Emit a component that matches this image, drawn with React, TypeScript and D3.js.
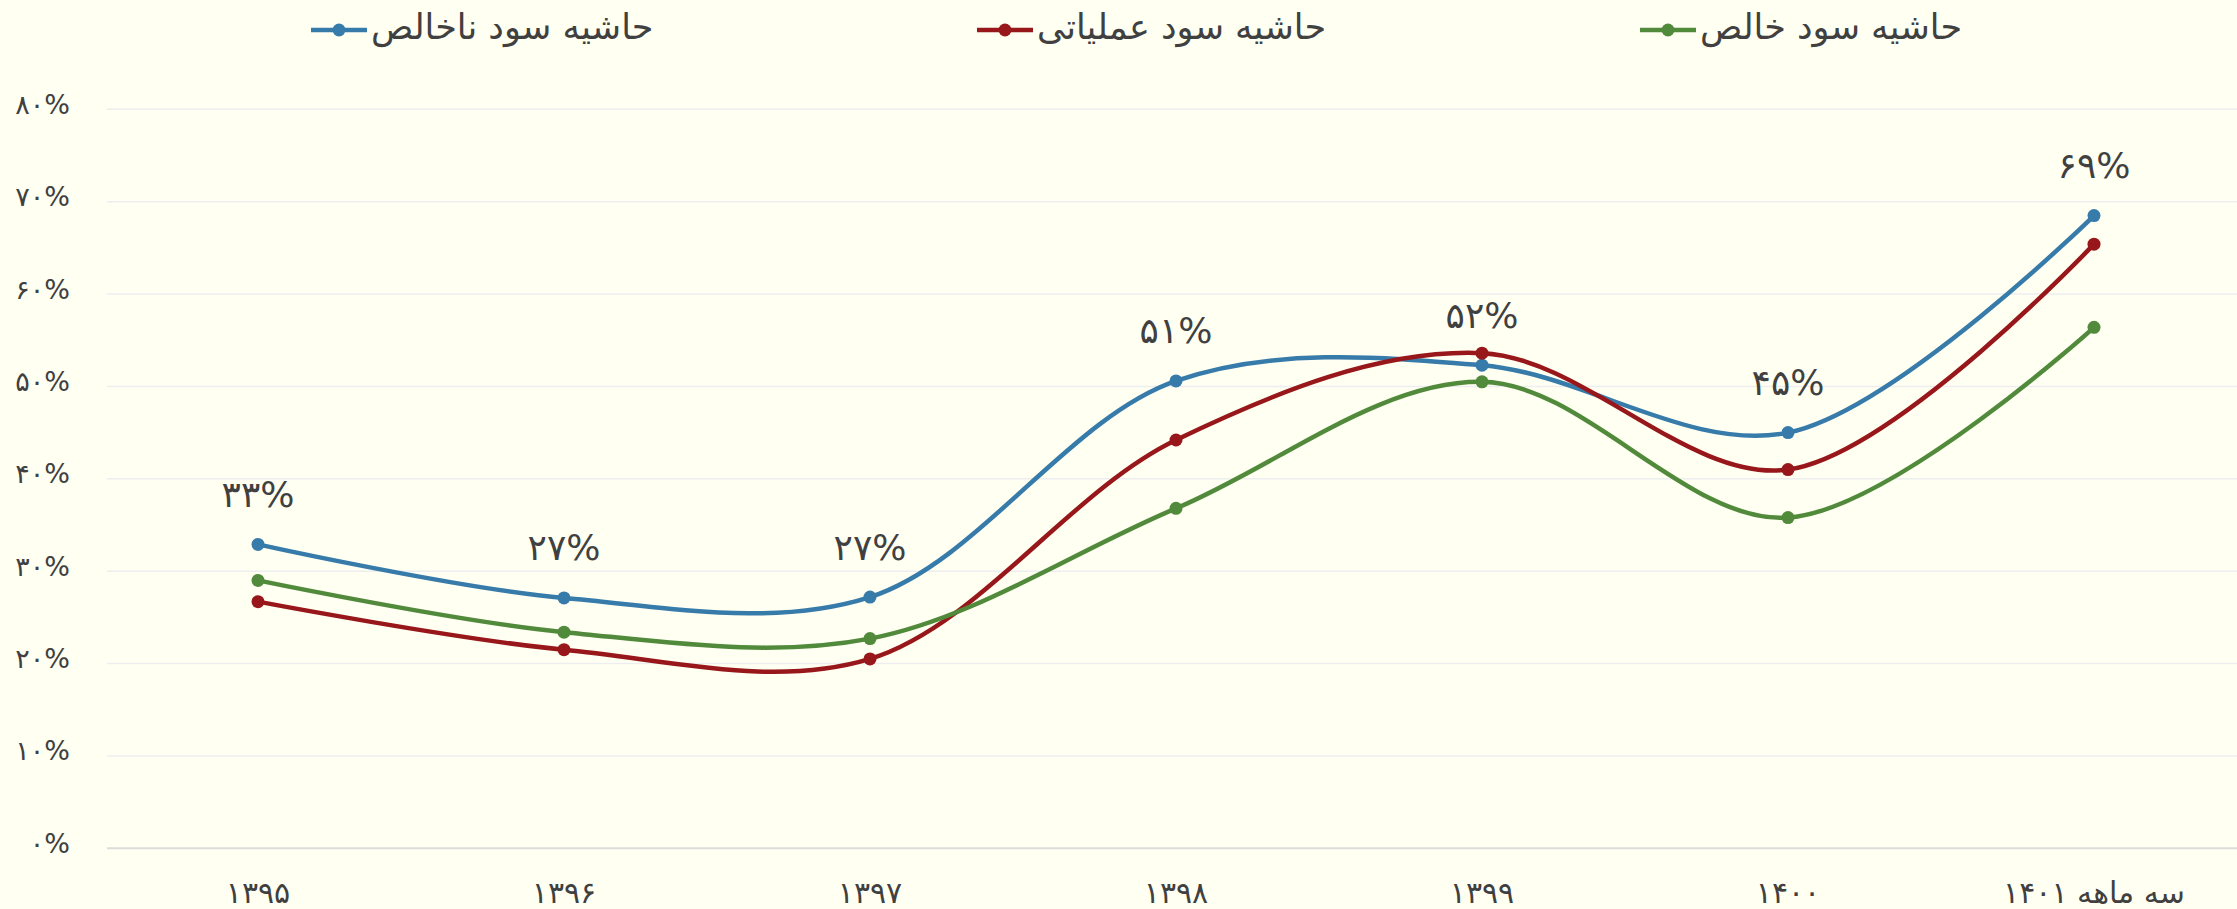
import React from "react";
import * as d3 from "d3";

const categories = ["۱۳۹۵", "۱۳۹۶", "۱۳۹۷", "۱۳۹۸", "۱۳۹۹", "۱۴۰۰", "سه ماهه ۱۴۰۱"];
const grossMargin = [32.9, 27.1, 27.2, 50.6, 52.3, 45.0, 68.5];
const operatingMargin = [26.7, 21.5, 20.5, 44.2, 53.6, 41.0, 65.4];
const netMargin = [29.0, 23.4, 22.7, 36.8, 50.5, 35.8, 56.4];
const grossLabels = ["۳۳%", "۲۷%", "۲۷%", "۵۱%", "۵۲%", "۴۵%", "۶۹%"];
const yTicks = [0, 10, 20, 30, 40, 50, 60, 70, 80];
const yTickLabels = ["۰%", "۱۰%", "۲۰%", "۳۰%", "۴۰%", "۵۰%", "۶۰%", "۷۰%", "۸۰%"];
const seriesNames = ["حاشیه سود ناخالص", "حاشیه سود عملیاتی", "حاشیه سود خالص"];
const seriesColors = ["#377BAA", "#98171B", "#528A3C"];

const W = 2237;
const H = 909;
const FONT = "'DejaVu Sans', sans-serif";
const TEXT = "#404040";

export default function App() {
  const x = d3.scalePoint<string>().domain(categories).range([258, 2094]);
  const y = d3.scaleLinear().domain([0, 80]).range([848.3, 109.3]);
  const gridLeft = 107;
  const gridRight = W;
  const series = [grossMargin, operatingMargin, netMargin];
  const line = d3
    .line<number>()
    .x((_, i) => x(categories[i]) as number)
    .y((v) => y(v))
    .curve(d3.curveCatmullRom.alpha(0.5));

  const legendMarkerX = [311, 977, 1640];
  const legendY = 30;

  return (
    <svg
      width={W}
      height={H}
      style={{ position: "absolute", left: 0, top: 0, display: "block" }}
      fontFamily={FONT}
    >
      <rect x={0} y={0} width={W} height={H} fill="#FFFFF2" />
      {yTicks.map((t, i) => (
        <g key={t}>
          <line
            x1={gridLeft}
            x2={gridRight}
            y1={y(t)}
            y2={y(t)}
            stroke={t === 0 ? "#DCDCDC" : "#EEEEF0"}
            strokeWidth={t === 0 ? 2 : 1.5}
          />
          <text
            x={70}
            y={y(t) - 5}
            textAnchor="end"
            dominantBaseline="central"
            fontSize={27}
            fill={TEXT}
          >
            {yTickLabels[i]}
          </text>
        </g>
      ))}
      {categories.map((c) => (
        <text
          key={c}
          x={x(c)}
          y={892}
          textAnchor="middle"
          dominantBaseline="central"
          direction="rtl"
          fontSize={30}
          fill={TEXT}
        >
          {c}
        </text>
      ))}
      {series.map((s, si) => (
        <g key={si}>
          <path d={line(s) || ""} fill="none" stroke={seriesColors[si]} strokeWidth={4.5} />
          {s.map((v, i) => (
            <circle key={i} cx={x(categories[i])} cy={y(v)} r={6.5} fill={seriesColors[si]} />
          ))}
        </g>
      ))}
      {grossMargin.map((v, i) => (
        <text
          key={i}
          x={x(categories[i])}
          y={y(v) - 50}
          textAnchor="middle"
          dominantBaseline="central"
          fontSize={36}
          fill={TEXT}
        >
          {grossLabels[i]}
        </text>
      ))}
      {seriesNames.map((n, i) => (
        <g key={n}>
          <line
            x1={legendMarkerX[i]}
            x2={legendMarkerX[i] + 56}
            y1={legendY}
            y2={legendY}
            stroke={seriesColors[i]}
            strokeWidth={4.5}
          />
          <circle cx={legendMarkerX[i] + 28} cy={legendY} r={6.5} fill={seriesColors[i]} />
          <text
            x={legendMarkerX[i] + 60}
            y={legendY - 3}
            textAnchor="start"
            dominantBaseline="central"
            fontSize={35}
            fill={TEXT}
          >
            {n}
          </text>
        </g>
      ))}
    </svg>
  );
}
